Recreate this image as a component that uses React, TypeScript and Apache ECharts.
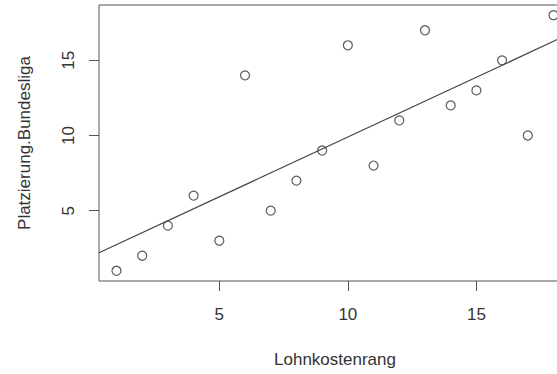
import React, { useEffect, useRef } from "react";
import * as echarts from "echarts";

const lohnkostenrang = [1, 2, 3, 4, 5, 6, 7, 8, 9, 10, 11, 12, 13, 14, 15, 16, 17, 18];
const platzierung = [1, 2, 4, 6, 3, 14, 5, 7, 9, 16, 8, 11, 17, 12, 13, 15, 10, 18];
const xTicks = [5, 10, 15];
const yTicks = [5, 10, 15];
const xTitle = "Lohnkostenrang";
const yTitle = "Platzierung.Bundesliga";

function rRange(v: number[]) {
  const lo = Math.min(...v);
  const hi = Math.max(...v);
  const d = (hi - lo) * 0.04;
  return [lo - d, hi + d];
}

function fit(x: number[], y: number[]) {
  const n = x.length;
  const mx = x.reduce((a, b) => a + b, 0) / n;
  const my = y.reduce((a, b) => a + b, 0) / n;
  let sxy = 0;
  let sxx = 0;
  for (let i = 0; i < n; i++) {
    sxy += (x[i] - mx) * (y[i] - my);
    sxx += (x[i] - mx) * (x[i] - mx);
  }
  const b = sxy / sxx;
  return { a: my - b * mx, b };
}

export default function App() {
  const ref = useRef<HTMLDivElement>(null);
  useEffect(() => {
    if (!ref.current) return;
    const chart = echarts.init(ref.current, null, { renderer: "svg" });
    const [xmin, xmax] = rRange(lohnkostenrang);
    const [ymin, ymax] = rRange(platzierung);
    const { a, b } = fit(lohnkostenrang, platzierung);
    const font = "'Liberation Sans', Arial, sans-serif";
    const textColor = "#333";
    const lineColor = "#555";
    chart.setOption({
      animation: false,
      backgroundColor: "#fff",
      grid: {
        left: 99,
        top: 5,
        width: 472,
        height: 276,
        outerBoundsMode: "none",
        containLabel: false,
        show: true,
        borderColor: lineColor,
        borderWidth: 1,
        backgroundColor: "transparent",
      },
      xAxis: {
        type: "value",
        min: xmin,
        max: xmax,
        name: xTitle,
        nameLocation: "middle",
        nameGap: 70,
        nameTextStyle: { fontFamily: font, fontSize: 17, color: textColor },
        axisLine: { show: false },
        splitLine: { show: false },
        axisTick: {
          show: true,
          inside: false,
          length: 10,
          customValues: xTicks,
          lineStyle: { color: lineColor, width: 1 },
        },
        axisLabel: {
          customValues: xTicks,
          margin: 25,
          fontFamily: font,
          fontSize: 17,
          color: textColor,
        },
      },
      yAxis: {
        type: "value",
        min: ymin,
        max: ymax,
        name: yTitle,
        nameLocation: "middle",
        nameGap: 66,
        nameTextStyle: { fontFamily: font, fontSize: 17, color: textColor },
        axisLine: { show: false },
        splitLine: { show: false },
        axisTick: {
          show: true,
          inside: false,
          length: 10,
          customValues: yTicks,
          lineStyle: { color: lineColor, width: 1 },
        },
        axisLabel: {
          customValues: yTicks,
          rotate: 90,
          margin: 22,
          fontFamily: font,
          fontSize: 17,
          color: textColor,
        },
      },
      series: [
        {
          type: "scatter",
          data: lohnkostenrang.map((x, i) => [x, platzierung[i]]),
          symbol: "circle",
          symbolSize: 9,
          itemStyle: { color: "none", borderColor: "#333", borderWidth: 1.2 },
        },
        {
          type: "line",
          data: [
            [xmin, a + b * xmin],
            [xmax, a + b * xmax],
          ],
          showSymbol: false,
          symbol: "none",
          lineStyle: { color: "#444", width: 1.2 },
          silent: true,
        },
      ],
    });
    return () => chart.dispose();
  }, []);
  return (
    <div
      ref={ref}
      style={{ position: "fixed", left: 0, top: 0, width: 557, height: 374 }}
    />
  );
}
